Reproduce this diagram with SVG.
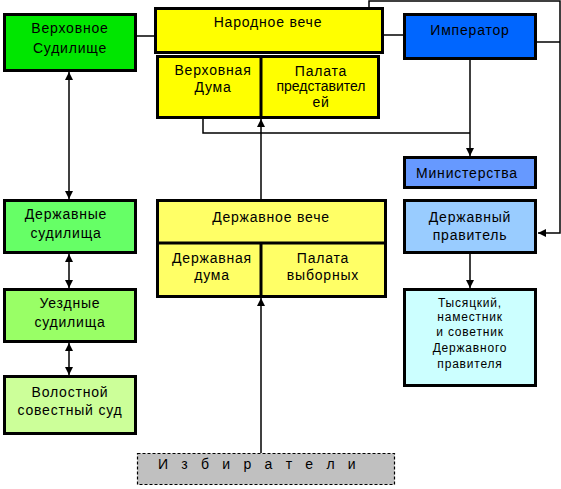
<svg xmlns="http://www.w3.org/2000/svg" width="561" height="489" viewBox="0 0 561 489">
<style>
  .box { stroke: #000; stroke-width: 3; }
  .t { font-family: "Liberation Sans", Arial, sans-serif; font-size: 14px; letter-spacing: 0.8px; text-anchor: middle; fill: #000; }
  .s { font-size: 12px; }
  .n { letter-spacing: 0; }
  .c { fill: none; stroke: #000; stroke-width: 1.5; }
</style>
<defs>
  <marker id="ah" viewBox="0 0 10 10" refX="10" refY="5" markerWidth="8" markerHeight="8" markerUnits="userSpaceOnUse" orient="auto-start-reverse">
    <path d="M0,0 L10,5 L0,10 z" fill="#000"/>
  </marker>
</defs>
<rect width="561" height="489" fill="#fff"/>

<g id="connectors">
  <line class="c" x1="137" y1="36" x2="155" y2="36"/>
  <line class="c" x1="384" y1="35" x2="403" y2="35"/>
  <polyline class="c" points="369,7 369,1 560,1 560,233 538,233" marker-end="url(#ah)"/>
  <line class="c" x1="537" y1="42" x2="560" y2="42"/>
  <polyline class="c" points="203,119 203,133 470,133"/>
  <line class="c" x1="470" y1="60" x2="470" y2="156" marker-end="url(#ah)"/>
  <line class="c" x1="470" y1="254" x2="470" y2="288" marker-end="url(#ah)"/>
  <line class="c" x1="261" y1="199" x2="261" y2="119" marker-end="url(#ah)"/>
  <line class="c" x1="261" y1="453" x2="261" y2="298" marker-end="url(#ah)"/>
  <line class="c" x1="69" y1="72" x2="69" y2="199" marker-start="url(#ah)" marker-end="url(#ah)"/>
  <line class="c" x1="69" y1="254" x2="69" y2="288" marker-start="url(#ah)" marker-end="url(#ah)"/>
  <line class="c" x1="69" y1="343" x2="69" y2="375" marker-start="url(#ah)" marker-end="url(#ah)"/>
</g>

<g id="verkhovnoe-sudilishche">
  <rect class="box" x="4.5" y="14.5" width="131" height="56" fill="#00e600"/>
  <text class="t" x="70" y="33">Верховное</text>
  <text class="t" x="70" y="53">Судилище</text>
</g>

<g id="narodnoe-veche">
  <rect class="box" x="155.5" y="8.5" width="227" height="44" fill="#ffff00"/>
  <text class="t" x="268" y="27">Народное вече</text>
  <rect class="box" x="157.5" y="56.5" width="221" height="61" fill="#ffff00"/>
  <line class="box" x1="261" y1="56" x2="261" y2="118"/>
  <text class="t" x="213" y="75">Верховная</text>
  <text class="t" x="213" y="92">Дума</text>
  <text class="t" x="321" y="76">Палата</text>
  <text class="t n" x="321" y="91">представител</text>
  <text class="t" x="321" y="107">ей</text>
</g>

<g id="imperator">
  <rect class="box" x="404.5" y="14.5" width="131" height="44" fill="#0066ff"/>
  <text class="t" x="470" y="35">Император</text>
</g>

<g id="ministerstva">
  <rect class="box" x="404.5" y="157.5" width="131" height="30" fill="#6699ff"/>
  <text class="t" x="467" y="178">Министерства</text>
</g>

<g id="derzhavny-pravitel">
  <rect class="box" x="404.5" y="200.5" width="131" height="52" fill="#99ccff"/>
  <text class="t" x="470" y="222">Державный</text>
  <text class="t" x="470" y="240">правитель</text>
</g>

<g id="tysyatsky">
  <rect class="box" x="404.5" y="289.5" width="131" height="96" fill="#ccffff"/>
  <text class="t s" x="470" y="307">Тысяцкий,</text>
  <text class="t s" x="470" y="321">наместник</text>
  <text class="t s" x="470" y="336">и советник</text>
  <text class="t s" x="470" y="352">Державного</text>
  <text class="t s" x="470" y="368">правителя</text>
</g>

<g id="derzhavnoe-veche">
  <rect class="box" x="157.5" y="200.5" width="228" height="96" fill="#ffff66"/>
  <line class="box" x1="157" y1="243" x2="386" y2="243"/>
  <line class="box" x1="261" y1="243" x2="261" y2="297"/>
  <text class="t" x="271" y="222">Державное вече</text>
  <text class="t" x="212" y="263">Державная</text>
  <text class="t" x="212" y="280">дума</text>
  <text class="t" x="323" y="263">Палата</text>
  <text class="t" x="323" y="280">выборных</text>
</g>

<g id="derzhavnye-sudilishcha">
  <rect class="box" x="4.5" y="200.5" width="131" height="52" fill="#66ff66"/>
  <text class="t" x="66" y="219">Державные</text>
  <text class="t" x="66" y="238">судилища</text>
</g>

<g id="uezdnye-sudilishcha">
  <rect class="box" x="4.5" y="289.5" width="131" height="52" fill="#99ff66"/>
  <text class="t" x="70" y="308">Уездные</text>
  <text class="t" x="70" y="327">судилища</text>
</g>

<g id="volostnoy-sud">
  <rect class="box" x="4.5" y="376.5" width="131" height="57" fill="#ccff99"/>
  <text class="t" x="70" y="397">Волостной</text>
  <text class="t" x="70" y="415">совестный суд</text>
</g>

<g id="izbirateli">
  <rect x="137.5" y="453.5" width="257" height="31" fill="#c0c0c0" stroke="#000" stroke-width="1.2" stroke-dasharray="3,2"/>
  <text x="158" y="469" font-family="Liberation Sans, Arial, sans-serif" font-size="14" letter-spacing="4.7" fill="#000">И з б и р а т е л и</text>
</g>
</svg>
